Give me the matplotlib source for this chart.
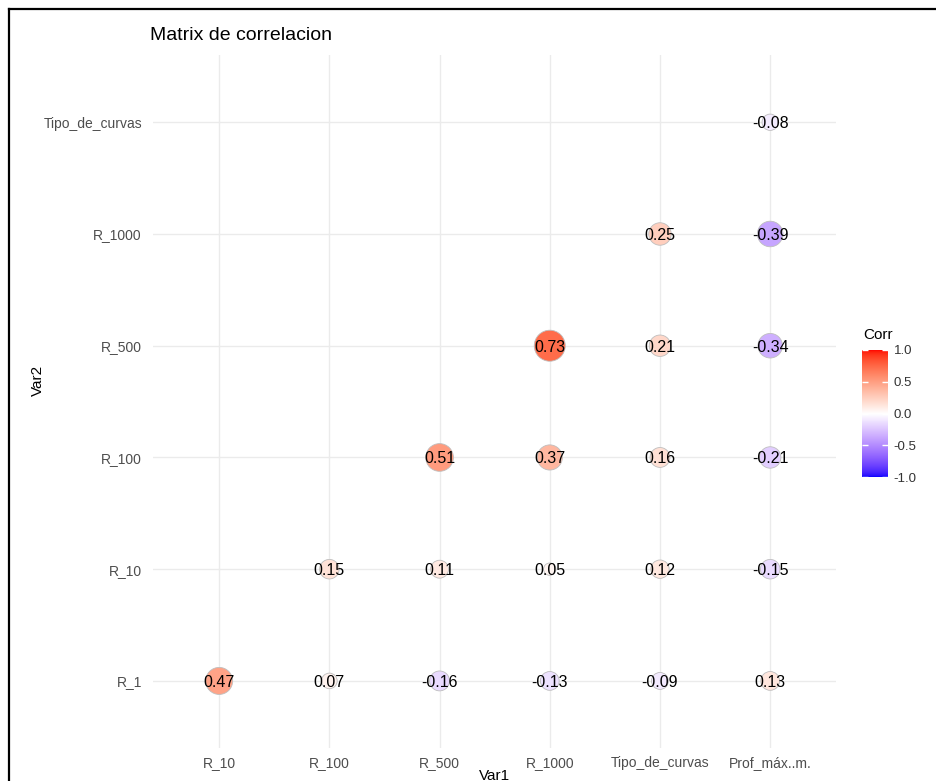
import numpy as np
import matplotlib
matplotlib.use("Agg")
import matplotlib.pyplot as plt
from matplotlib.colors import ListedColormap, Normalize
from matplotlib.lines import Line2D

plt.rcParams['font.family'] = ['Liberation Sans', 'DejaVu Sans']

# variables (x = Var1, y = Var2)
var1 = ["R_10", "R_100", "R_500", "R_1000", "Tipo_de_curvas", "Prof_máx..m."]
var2 = ["R_1", "R_10", "R_100", "R_500", "R_1000", "Tipo_de_curvas"]

# lower triangle, one row per Var2 (None = empty cell)
corr_R_1 = [0.47, 0.07, -0.16, -0.13, -0.09, 0.13]
corr_R_10 = [None, 0.15, 0.11, 0.05, 0.12, -0.15]
corr_R_100 = [None, None, 0.51, 0.37, 0.16, -0.21]
corr_R_500 = [None, None, None, 0.73, 0.21, -0.34]
corr_R_1000 = [None, None, None, None, 0.25, -0.39]
corr_Tipo = [None, None, None, None, None, -0.08]
rows = [corr_R_1, corr_R_10, corr_R_100, corr_R_500, corr_R_1000, corr_Tipo]


# blue - white - red gradient interpolated in Lab (like ggplot's gradient2)
M = np.array([[0.4124, 0.3576, 0.1805],
              [0.2126, 0.7152, 0.0722],
              [0.0193, 0.1192, 0.9505]])
white = M @ np.ones(3)


def to_lab(rgb):
    c = np.asarray(rgb, float)
    lin = np.where(c <= 0.04045, c / 12.92, ((c + 0.055) / 1.055) ** 2.4)
    t = (M @ lin) / white
    f = np.where(t > (6 / 29) ** 3, np.cbrt(t), t / (3 * (6 / 29) ** 2) + 4 / 29)
    return np.array([116 * f[1] - 16, 500 * (f[0] - f[1]), 200 * (f[1] - f[2])])


def from_lab(lab):
    fy = (lab[0] + 16) / 116
    f = np.array([fy + lab[1] / 500, fy, fy - lab[2] / 200])
    t = np.where(f > 6 / 29, f ** 3, 3 * (6 / 29) ** 2 * (f - 4 / 29))
    lin = np.linalg.solve(M, t * white)
    lin = np.clip(lin, 0, 1)
    c = np.where(lin <= 0.0031308, 12.92 * lin, 1.055 * lin ** (1 / 2.4) - 0.055)
    return np.clip(c, 0, 1)


lab_b, lab_w, lab_r = to_lab([0, 0, 1]), to_lab([1, 1, 1]), to_lab([1, 0, 0])
cols = []
for v in np.linspace(-1, 1, 256):
    if v < 0:
        cols.append(from_lab(lab_w + (lab_b - lab_w) * (-v)))
    else:
        cols.append(from_lab(lab_w + (lab_r - lab_w) * v))
cmap = ListedColormap(cols)
norm = Normalize(-1, 1)

xs, ys, vals = [], [], []
for j, row in enumerate(rows):
    for i, v in enumerate(row):
        if v is not None:
            xs.append(i)
            ys.append(j)
            vals.append(v)
vals = np.array(vals)
a = np.abs(vals)
r = (a - a.min()) / (a.max() - a.min())
d_px = 3.1 * (4 + 6 * np.sqrt(r))
sizes = (d_px * 0.72) ** 2

fig = plt.figure(figsize=(9.36, 7.81), dpi=100)
ax = fig.add_axes([0.1635, 0.0423, 0.730, 0.887])

for i in range(len(var1)):
    ax.axvline(i, color="#EBEBEB", lw=1, zorder=0)
for j in range(len(var2)):
    ax.axhline(j, color="#EBEBEB", lw=1, zorder=0)

ax.scatter(xs, ys, s=sizes, c=vals, cmap=cmap, norm=norm,
           edgecolors="#BEBEBE", linewidths=0.6, zorder=2)
for x, y, v in zip(xs, ys, vals):
    ax.text(x, y, f"{v:.2f}", ha="center", va="center_baseline", fontsize=11.5,
            color="black", zorder=3)

ax.set_xlim(-0.6, 5.6)
ax.set_ylim(-0.6, 5.6)
ax.set_xticks(range(len(var1)))
ax.set_xticklabels(var1)
ax.set_yticks(range(len(var2)))
ax.set_yticklabels(var2)
ax.tick_params(length=0, labelsize=10, labelcolor="#4D4D4D")
ax.tick_params(axis="y", pad=8)
ax.tick_params(axis="x", pad=6)
for s in ax.spines.values():
    s.set_visible(False)

fig.text(0.160, 0.955, "Matrix de correlacion", fontsize=14, va="center", ha="left")
fig.text(0.040, 0.513, "Var2", fontsize=11, rotation=90, va="center", ha="center")
fig.text(0.528, 0.006, "Var1", fontsize=11, va="center", ha="center")

# colour bar legend
cax = fig.add_axes([0.921, 0.389, 0.028, 0.163])
cb = fig.colorbar(plt.cm.ScalarMappable(norm=norm, cmap=cmap), cax=cax)
cb.outline.set_visible(False)
cb.set_ticks([-1, -0.5, 0, 0.5, 1])
cb.set_ticklabels(["-1.0", "-0.5", "0.0", "0.5", "1.0"])
cax.yaxis.set_ticks_position("both")
cax.tick_params(direction="in", color="white", length=4, width=1,
                labelsize=9.5, labelcolor="#333333", pad=4, labelleft=False)
fig.text(0.922, 0.571, "Corr", fontsize=11, va="center", ha="left")

# black frame from the screenshot
fig.add_artist(Line2D([9 / 936, 9 / 936], [0, 1 - 9 / 781], color="black", lw=1.6))
fig.add_artist(Line2D([9 / 936, 1], [1 - 9 / 781, 1 - 9 / 781], color="black", lw=1.6))

fig.savefig("out.png", dpi=100)
